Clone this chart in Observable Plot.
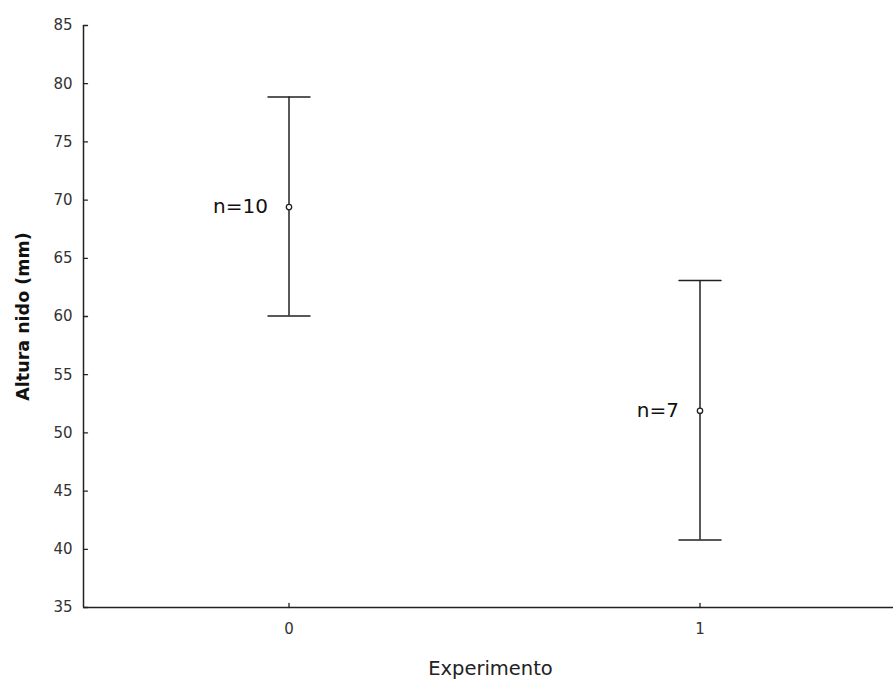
<!DOCTYPE html>
<html>
<head>
<meta charset="utf-8">
<script src="https://cdn.jsdelivr.net/npm/d3@7"></script>
<script src="https://cdn.jsdelivr.net/npm/@observablehq/plot@0.6"></script>
<style>
  html, body { margin: 0; padding: 0; background: #fff; }
  #chart svg { display: block; }
</style>
</head>
<body>
<div id="chart"></div>
<script>
// Data
const groups = [0, 1];
const means = [69.4, 51.9];
const upper = [78.85, 63.1];
const lower = [60.05, 40.8];
const nLabels = ["n=10", "n=7"];
const yTicks = [35, 40, 45, 50, 55, 60, 65, 70, 75, 80, 85];
const xTicks = [0, 1];

const data = groups.map((g, i) => ({g, mean: means[i], hi: upper[i], lo: lower[i], label: nLabels[i]}));

const ink = "#222";
// plain line segment shape for vector marks (ticks and caps)
const lineShape = {draw(context, l) { context.moveTo(0, 0); context.lineTo(0, -l); }};

const plot = Plot.plot({
  width: 893,
  height: 680,
  marginLeft: 83,
  marginRight: 0,
  marginTop: 25,
  marginBottom: 73,
  style: {background: "#fff", color: ink},
  x: {domain: [-0.5, 1.5], range: [83, 905]},
  y: {domain: [35, 85], range: [607, 25]},
  marks: [
    // axis lines
    Plot.ruleX([-0.5], {stroke: ink, strokeWidth: 1.5}),
    Plot.ruleY([35], {stroke: ink, strokeWidth: 1.5}),
    // inward ticks
    Plot.vector(yTicks, {y: d => d, frameAnchor: "left", length: 4, rotate: 90, anchor: "start", shape: lineShape, stroke: ink, strokeWidth: 1.3}),
    Plot.vector(xTicks, {x: d => d, frameAnchor: "bottom", length: 4, rotate: 0, anchor: "start", shape: lineShape, stroke: ink, strokeWidth: 1.3}),
    // tick labels
    Plot.axisY(yTicks, {tickSize: 0, tickPadding: 11, fontSize: 15, fontFamily: "DejaVu Sans, sans-serif", fill: "#333", label: null}),
    Plot.axisX(xTicks, {tickSize: 0, tickPadding: 16, tickFormat: d => String(d), fontSize: 15, fontFamily: "DejaVu Sans, sans-serif", fill: "#333", label: null}),
    // error bars
    Plot.ruleX(data, {x: "g", y1: "lo", y2: "hi", stroke: ink, strokeWidth: 1.5}),
    Plot.vector(data, {x: "g", y: "hi", length: 42, rotate: 90, anchor: "middle", shape: lineShape, stroke: ink, strokeWidth: 1.5}),
    Plot.vector(data, {x: "g", y: "lo", length: 42, rotate: 90, anchor: "middle", shape: lineShape, stroke: ink, strokeWidth: 1.5}),
    Plot.dot(data, {x: "g", y: "mean", r: 2.7, fill: "#fff", stroke: ink, strokeWidth: 1.3}),
    Plot.text(data, {x: "g", y: "mean", text: "label", textAnchor: "end", dx: -21, fontSize: 20, fontFamily: "DejaVu Sans, sans-serif", fill: "#111"}),
    // axis titles
    Plot.text(["Experimento"], {frameAnchor: "bottom", x: 0.5, dx: -4, dy: 67, fontSize: 19.5, fontFamily: "DejaVu Sans, sans-serif", fill: "#222"}),
    Plot.text(["Altura nido (mm)"], {frameAnchor: "left", y: 60, dx: -60, rotate: -90, textAnchor: "middle", fontSize: 17.5, fontWeight: "bold", fontFamily: "DejaVu Sans, sans-serif", fill: "#111"})
  ]
});

document.getElementById("chart").appendChild(plot);
</script>
</body>
</html>
